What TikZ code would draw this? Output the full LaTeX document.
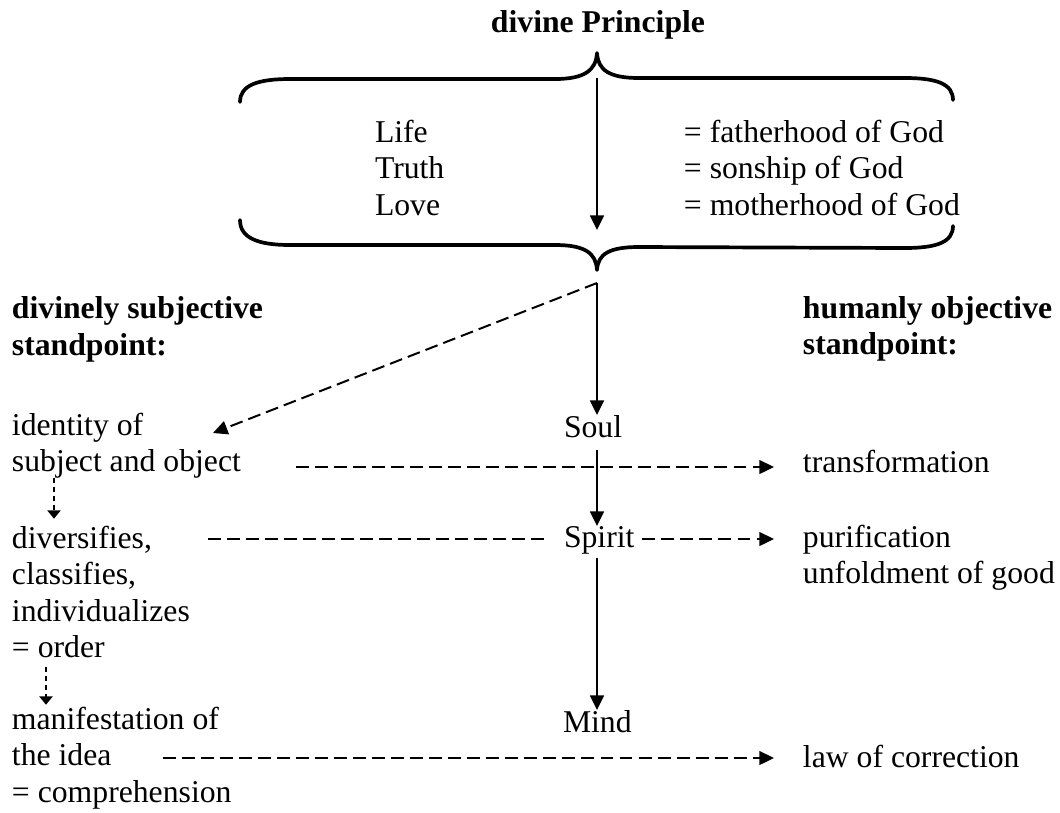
\documentclass[tikz,border=0pt]{standalone}
\usepackage{fontspec}
\setmainfont{Liberation Serif}
\usetikzlibrary{arrows.meta,calc}
\begin{document}
\begin{tikzpicture}[x=0.3785pt,y=-0.3785pt,
  txt/.style={inner sep=0pt,outer sep=0pt,anchor=base west,align=left,font=\fontsize{12pt}{13.63pt}\selectfont},
  btxt/.style={txt,font=\fontsize{12pt}{13.63pt}\selectfont\bfseries},
  bracepath/.style={line width=1.4pt,line cap=round,line join=round},
  solidarrow/.style={line width=0.75pt,-{Triangle[length=5.5pt,width=5.2pt]}},
  dashline/.style={line width=0.75pt,dash pattern=on 4.9pt off 2.3pt},
  dasharrow/.style={dashline,-{Triangle[length=5.5pt,width=5.2pt]}},
  smallarrow/.style={line width=0.75pt,dash pattern=on 1.9pt off 1.5pt,-{Triangle[length=3.2pt,width=5pt]}}
]
\fill[white] (0,0) rectangle (1060,813);

% texts (multi-line nodes are placed by the baseline of their last line)
\node[btxt,anchor=base] (title) at (598,32) {divine Principle};
\node[txt] (ltl) at (375,215) {Life\\Truth\\Love};
\node[txt] (eqs) at (684,215) {= fatherhood of God\\= sonship of God\\= motherhood of God};
\node[btxt] (dsub) at (12,355) {divinely subjective\\standpoint:};
\node[btxt] (hobj) at (803,354) {humanly objective\\standpoint:};
\node[txt] (ident) at (12,471) {identity of\\subject and object};
\node[txt] (divers) at (12,657) {diversifies,\\classifies,\\individualizes\\= order};
\node[txt] (manif) at (12,802) {manifestation of\\the idea\\= comprehension};
\node[txt] (soul) at (564,437) {Soul};
\node[txt] (spirit) at (564,547) {Spirit};
\node[txt] (mind) at (563,732) {Mind};
\node[txt] (trans) at (803,472) {transformation};
\node[txt] (purif) at (803,583) {purification\\unfoldment of good};
\node[txt] (law) at (803,767) {law of correction};

% braces
\draw[bracepath] (240,102) .. controls (240,85) and (258,79) .. (290,79)
  -- (555,79) .. controls (585,79) and (596,70) .. (597,53)
  .. controls (598,70) and (609,78) .. (639,78)
  -- (905,78) .. controls (937,78) and (953,84) .. (953,100);
\draw[bracepath] (240,220) .. controls (240,238) and (258,245) .. (290,245)
  -- (555,245) .. controls (585,245) and (596,253) .. (597,270)
  .. controls (598,254) and (609,247) .. (639,247)
  -- (905,248) .. controls (937,248) and (953,242) .. (953,226);

% coordinates
\coordinate (ttop) at (597,78);
\coordinate (tbot) at (597,230);
\coordinate (fork) at (597,283);
\coordinate (diag) at (213,433);
\coordinate (r1) at (296,467);
\coordinate (r2) at (208,539);
\coordinate (r3) at (163,758);
\coordinate (c1) at (54,0);
\coordinate (c2) at (46,0);

% connectors
\draw[solidarrow] (ttop) -- (tbot);
\draw[solidarrow] (fork) -- (soul.north -| fork);
\draw[dasharrow] (fork) -- (diag);
\draw[solidarrow,shorten <=4.9pt] (soul.south -| fork) -- (spirit.north -| fork);
\draw[solidarrow,shorten <=1.5pt] (spirit.south -| fork) -- (mind.north -| fork);
\draw[dasharrow,shorten >=11pt] (r1) -- (trans.west |- r1);
\draw[dashline,shorten >=5.3pt] (r2) -- (spirit.west |- r2);
\draw[dasharrow,shorten <=3pt,shorten >=11pt] (spirit.east |- r2) -- (purif.west |- r2);
\draw[dasharrow,shorten >=11pt] (r3) -- (law.west |- r3);
\draw[smallarrow,shorten >=3pt] (ident.south -| c1) -- (divers.north -| c1);
\draw[smallarrow,shorten <=3.8pt,shorten >=1.1pt] (divers.south -| c2) -- (manif.north -| c2);
\end{tikzpicture}
\end{document}
